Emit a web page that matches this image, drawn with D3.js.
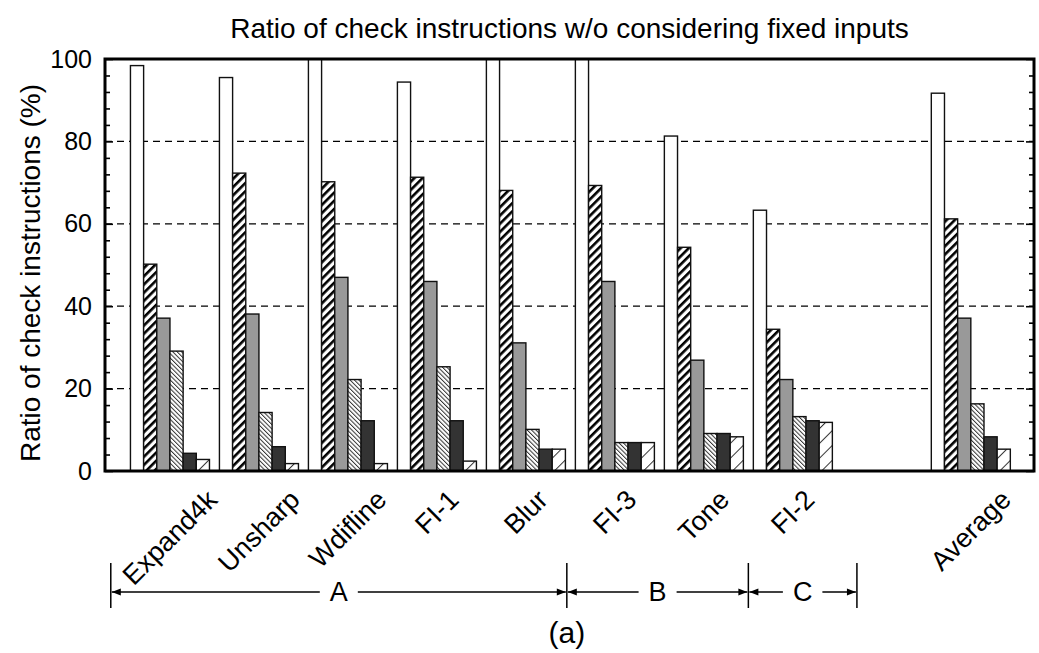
<!DOCTYPE html>
<html>
<head>
<meta charset="utf-8">
<script src="https://cdn.jsdelivr.net/npm/d3@7"></script>
<style>
  body { margin: 0; background: #fff; }
  svg { display: block; font-family: "Liberation Sans", Arial, Helvetica, sans-serif; }
</style>
</head>
<body>
<svg id="chart" width="1039" height="653"></svg>
<script>
// benchmarks and their slot on the x axis (slot 8 is left empty)
const benchmarks = ["Expand4k", "Unsharp", "Wdifline", "FI-1", "Blur", "FI-3", "Tone", "FI-2", "Average"];
const slots = [0, 1, 2, 3, 4, 5, 6, 7, 9];

// six series, values in %
const series1 = [98.4, 95.5, 100, 94.4, 100, 100, 81.3, 63.3, 91.7];
const series2 = [50.2, 72.3, 70.2, 71.3, 68.1, 69.3, 54.3, 34.4, 61.2];
const series3 = [37.1, 38.1, 47.0, 46.0, 31.1, 46.0, 26.9, 22.2, 37.1];
const series4 = [29.1, 14.2, 22.2, 25.3, 10.1, 6.9, 9.1, 13.2, 16.3];
const series5 = [4.3, 5.9, 12.2, 12.2, 5.3, 6.9, 9.1, 12.2, 8.3];
const series6 = [2.8, 1.8, 1.8, 2.4, 5.3, 6.9, 8.3, 11.8, 5.3];
const allSeries = [series1, series2, series3, series4, series5, series6];

const yTicks = [0, 20, 40, 60, 80, 100];
const yMinorTicks = d3.range(0, 101, 4).filter(v => v % 20 !== 0);

// bracket groups below the axis, in slot units
const groupNames = ["A", "B", "C"];
const groupEdges = [-0.665, 4.46, 6.5, 7.72];

const svg = d3.select("#chart");
const plotLeft = 105, plotRight = 1034, plotTop = 59, plotBottom = 471;

const x = d3.scaleLinear().domain([-0.73, 9.71]).range([plotLeft, plotRight]);
const y = d3.scaleLinear().domain([0, 100]).range([plotBottom, plotTop]);

// patterns
const defs = svg.append("defs");
const makeHatch = (id, spacing, angle, width, color) => {
    const p = defs.append("pattern")
        .attr("id", id)
        .attr("patternUnits", "userSpaceOnUse")
        .attr("width", spacing)
        .attr("height", spacing)
        .attr("patternTransform", `rotate(${angle})`);
    p.append("rect").attr("width", spacing).attr("height", spacing).attr("fill", "#fff");
    p.append("rect").attr("x", 0).attr("y", 0).attr("width", width).attr("height", spacing).attr("fill", color);
};
makeHatch("boldHatch", 5.8, 45, 2.6, "#000");
makeHatch("backHatch", 3.1, -45, 1, "#333");
makeHatch("thinHatch", 10.5, 45, 1, "#333");

const fills = ["#fff", "url(#boldHatch)", "#999", "url(#backHatch)", "#333", "url(#thinHatch)"];

// gridlines
svg.append("g")
    .selectAll("line")
    .data(yTicks.filter(v => v > 0 && v < 100))
    .enter()
    .append("line")
    .attr("x1", plotLeft)
    .attr("x2", plotRight)
    .attr("y1", d => y(d))
    .attr("y2", d => y(d))
    .style("stroke", "#000")
    .style("stroke-width", 1.3)
    .style("stroke-dasharray", "7,5");

// bars
const groupW = 0.888;
const barW = groupW / 6;
const barLayer = svg.append("g");
allSeries.forEach((vals, si) => {
    barLayer.selectAll(`.bar${si}`)
        .data(vals.map((v, i) => ({ v, slot: slots[i] })))
        .enter()
        .append("rect")
        .attr("class", `bar${si}`)
        .attr("x", d => x(d.slot - groupW / 2 + si * barW))
        .attr("y", d => y(d.v))
        .attr("width", x(barW) - x(0))
        .attr("height", d => y(0) - y(d.v))
        .style("fill", fills[si])
        .style("stroke", "#111")
        .style("stroke-width", 1.4);
});

// axes with inward ticks
const axisStyle = g => {
    g.select(".domain").remove();
    g.selectAll(".tick line").style("stroke", "#000").style("stroke-width", 1.6);
};
svg.append("g")
    .attr("transform", `translate(${plotLeft},0)`)
    .call(d3.axisLeft(y).tickValues(yTicks).tickSizeInner(-8).tickSizeOuter(0).tickPadding(13))
    .call(axisStyle)
    .call(g => g.selectAll("text").style("font-size", "25px").style("fill", "#000")
        .attr("font-family", "Liberation Sans, Arial, sans-serif"));
svg.append("g")
    .attr("transform", `translate(${plotLeft},0)`)
    .call(d3.axisLeft(y).tickValues(yMinorTicks).tickSizeInner(-5).tickSizeOuter(0).tickFormat(""))
    .call(axisStyle);
svg.append("g")
    .attr("transform", `translate(${plotRight},0)`)
    .call(d3.axisRight(y).tickValues(yTicks).tickSizeInner(-8).tickSizeOuter(0).tickFormat(""))
    .call(axisStyle);
svg.append("g")
    .attr("transform", `translate(${plotRight},0)`)
    .call(d3.axisRight(y).tickValues(yMinorTicks).tickSizeInner(-5).tickSizeOuter(0).tickFormat(""))
    .call(axisStyle);

// frame
svg.append("rect")
    .attr("x", plotLeft)
    .attr("y", plotTop)
    .attr("width", plotRight - plotLeft)
    .attr("height", plotBottom - plotTop)
    .style("fill", "none")
    .style("stroke", "#000")
    .style("stroke-width", 3);

// title
svg.append("text")
    .attr("x", (plotLeft + plotRight) / 2)
    .attr("y", 28)
    .attr("text-anchor", "middle")
    .attr("dominant-baseline", "central")
    .style("font-size", "28px")
    .text("Ratio of check instructions w/o considering fixed inputs");

// y axis title
svg.append("text")
    .attr("transform", `translate(30,273) rotate(-90)`)
    .attr("text-anchor", "middle")
    .attr("dominant-baseline", "central")
    .style("font-size", "28px")
    .text("Ratio of check instructions (%)");

// rotated benchmark labels, top of each label near y=490
const labelSize = 27;
svg.append("g")
    .selectAll("text")
    .data(benchmarks.map((b, i) => ({ b, slot: slots[i] })))
    .enter()
    .append("text")
    .attr("text-anchor", "middle")
    .attr("dominant-baseline", "central")
    .style("font-size", labelSize + "px")
    .text(d => d.b)
    .attr("transform", function (d) {
        const len = this.getComputedTextLength();
        const cy = 487 + (len + labelSize * 0.85) * 0.3535;
        return `translate(${x(d.slot)},${cy}) rotate(-45)`;
    });

// group brackets
const brY = 592;
const brLayer = svg.append("g");
brLayer.selectAll("line.edge")
    .data(groupEdges)
    .enter()
    .append("line")
    .attr("class", "edge")
    .attr("x1", d => x(d))
    .attr("x2", d => x(d))
    .attr("y1", 563)
    .attr("y2", 608)
    .style("stroke", "#000")
    .style("stroke-width", 1.5);

const arrowHead = (xTip, dir) => {
    const len = 9, hw = 3.6;
    brLayer.append("path")
        .attr("d", `M${xTip},${brY} L${xTip - dir * len},${brY - hw} L${xTip - dir * len},${brY + hw} Z`)
        .style("fill", "#000");
};

groupNames.forEach((name, i) => {
    const x0 = x(groupEdges[i]) + 1;
    const x1 = x(groupEdges[i + 1]) - 1;
    const cx = (x0 + x1) / 2;
    const t = brLayer.append("text")
        .attr("x", cx)
        .attr("y", brY)
        .attr("text-anchor", "middle")
        .attr("dominant-baseline", "central")
        .style("font-size", "27px")
        .text(name);
    const half = t.node().getComputedTextLength() / 2 + 10;
    brLayer.append("line").attr("x1", x0).attr("x2", cx - half).attr("y1", brY).attr("y2", brY)
        .style("stroke", "#000").style("stroke-width", 1.3);
    brLayer.append("line").attr("x1", cx + half).attr("x2", x1).attr("y1", brY).attr("y2", brY)
        .style("stroke", "#000").style("stroke-width", 1.3);
    arrowHead(x0, -1);
    arrowHead(x1, 1);
});

// caption
svg.append("text")
    .attr("x", x(4.46))
    .attr("y", 632)
    .attr("text-anchor", "middle")
    .attr("dominant-baseline", "central")
    .style("font-size", "30px")
    .text("(a)");
</script>
</body>
</html>
